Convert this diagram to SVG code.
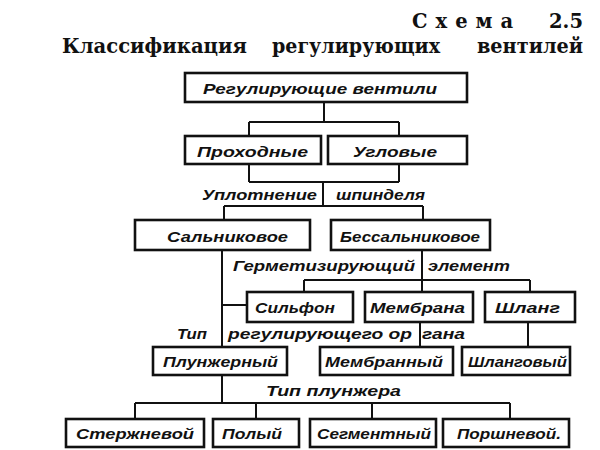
<svg xmlns="http://www.w3.org/2000/svg" width="600" height="450" viewBox="0 0 600 450">
<style>
.bx{fill:#fff;stroke:#111;stroke-width:2.6}
.cn{fill:none;stroke:#111;stroke-width:2}
.t{font-family:"Liberation Sans",Arial,sans-serif;font-style:italic;font-weight:bold;font-size:15.5px;fill:#111}
.h{font-family:"DejaVu Serif","Liberation Serif",serif;font-weight:bold;font-size:19.5px;fill:#111}
</style>
<rect width="600" height="450" fill="#fff"/>
<text class="h" x="412" y="28" letter-spacing="8">Схема</text>
<text class="h" x="549" y="28" textLength="34" lengthAdjust="spacingAndGlyphs">2.5</text>
<text class="h" x="62" y="53" textLength="185" lengthAdjust="spacingAndGlyphs">Классификация</text>
<text class="h" x="272" y="53" textLength="168" lengthAdjust="spacingAndGlyphs">регулирующих</text>
<text class="h" x="477" y="53" textLength="106" lengthAdjust="spacingAndGlyphs">вентилей</text>

<g id="connectors">
<path class="cn" d="M324 102V122M249 122H399M249 122V136M399 122V136"/>
<path class="cn" d="M249 164V182M399 164V182M249 182H399M323 182V206"/>
<path class="cn" d="M224 206H423M224 206V220M423 206V220"/>
<path class="cn" d="M222 250V347M222 305H247"/>
<path class="cn" d="M422 250V292M304 280H530M304 280V292M530 280V292"/>
<path class="cn" d="M420 322V347M528 322V347"/>
<path class="cn" d="M222 375V403M135 403H510M135 403V419M256 403V419M372 403V419M510 403V419"/>
</g>

<g id="labels">
<text class="t" x="202" y="200" textLength="115" lengthAdjust="spacingAndGlyphs">Уплотнение</text>
<text class="t" x="336" y="200" textLength="89" lengthAdjust="spacingAndGlyphs">шпинделя</text>
<text class="t" x="233" y="271" textLength="182" lengthAdjust="spacingAndGlyphs">Герметизирующий</text>
<text class="t" x="428" y="271" textLength="82" lengthAdjust="spacingAndGlyphs">элемент</text>
<text class="t" x="177" y="339" textLength="30" lengthAdjust="spacingAndGlyphs">Тип</text>
<text class="t" x="228" y="339" textLength="237" lengthAdjust="spacingAndGlyphs">регулирующего ор<tspan dx="8">гана</tspan></text>
<text class="t" x="266" y="396" textLength="135" lengthAdjust="spacingAndGlyphs">Тип плунжера</text>
</g>

<g id="n1"><rect class="bx" x="185" y="73" width="282" height="29"/><text class="t" x="203" y="94" textLength="234" lengthAdjust="spacingAndGlyphs">Регулирующие вентили</text></g>
<g id="n2"><rect class="bx" x="185" y="136" width="136" height="28"/><text class="t" x="197" y="157" textLength="111" lengthAdjust="spacingAndGlyphs">Проходные</text></g>
<g id="n3"><rect class="bx" x="328" y="136" width="139" height="28"/><text class="t" x="353" y="157" textLength="84" lengthAdjust="spacingAndGlyphs">Угловые</text></g>
<g id="n4"><rect class="bx" x="135" y="220" width="175" height="30"/><text class="t" x="167" y="242" textLength="121" lengthAdjust="spacingAndGlyphs">Сальниковое</text></g>
<g id="n5"><rect class="bx" x="331" y="220" width="159" height="30"/><text class="t" x="340" y="242" textLength="140" lengthAdjust="spacingAndGlyphs">Бессальниковое</text></g>
<g id="n6"><rect class="bx" x="247" y="292" width="106" height="30"/><text class="t" x="255" y="313" textLength="80" lengthAdjust="spacingAndGlyphs">Сильфон</text></g>
<g id="n7"><rect class="bx" x="365" y="292" width="108" height="30"/><text class="t" x="370" y="313" textLength="95" lengthAdjust="spacingAndGlyphs">Мембрана</text></g>
<g id="n8"><rect class="bx" x="485" y="292" width="90" height="30"/><text class="t" x="495" y="313" textLength="65" lengthAdjust="spacingAndGlyphs">Шланг</text></g>
<g id="n9"><rect class="bx" x="153" y="347" width="134" height="28"/><text class="t" x="163" y="367" textLength="115" lengthAdjust="spacingAndGlyphs">Плунжерный</text></g>
<g id="n10"><rect class="bx" x="320" y="347" width="133" height="28"/><text class="t" x="325" y="367" textLength="118" lengthAdjust="spacingAndGlyphs">Мембранный</text></g>
<g id="n11"><rect class="bx" x="462" y="347" width="108" height="28"/><text class="t" x="468" y="367" textLength="99" lengthAdjust="spacingAndGlyphs">Шланговый</text></g>
<g id="n12"><rect class="bx" x="66" y="419" width="138" height="28"/><text class="t" x="76" y="439" textLength="118" lengthAdjust="spacingAndGlyphs">Стержневой</text></g>
<g id="n13"><rect class="bx" x="213" y="419" width="86" height="28"/><text class="t" x="222" y="439" textLength="60" lengthAdjust="spacingAndGlyphs">Полый</text></g>
<g id="n14"><rect class="bx" x="310" y="419" width="126" height="28"/><text class="t" x="317" y="439" textLength="114" lengthAdjust="spacingAndGlyphs">Сегментный</text></g>
<g id="n15"><rect class="bx" x="443" y="419" width="126" height="28"/><text class="t" x="457" y="439" textLength="104" lengthAdjust="spacingAndGlyphs">Поршневой.</text></g>
</svg>
